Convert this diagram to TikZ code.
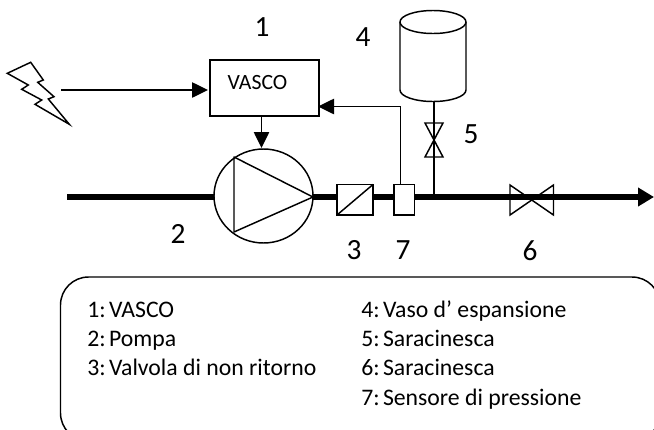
\documentclass[tikz,border=0pt]{standalone}
\usepackage{fontspec}
\setmainfont{Carlito}
\usetikzlibrary{arrows.meta}
\newcommand{\legitem}[2]{#1:\kern-1.5pt\ #2}
\tikzset{
    flow/.style={line width=1.1pt,-{Triangle[length=12pt,width=11.5pt]}},
    part/.style={line width=1.1pt,fill=white},
    num/.style={font=\fontsize{22}{26}\selectfont,inner sep=0pt},
    legend/.style={font=\fontsize{17.8}{21}\selectfont,inner sep=0pt,anchor=base west}
}
\begin{document}
\begin{tikzpicture}[x=0.75pt,y=-0.75pt]
            \clip (0,0) rectangle (654,429);

            \coordinate (S) at (61,90);
            \coordinate (V1) at (210,60);
            \coordinate (V2) at (319,116);
            \coordinate (VL) at (208,90);
            \coordinate (VR) at (318,106.5);
            \coordinate (VB) at (261.5,116);
            \coordinate (PT) at (261.5,148);

            \coordinate (P) at (263.5,196);
            \coordinate (T1) at (234,157);
            \coordinate (T2) at (234,232);
            \coordinate (T3) at (313,197);

            \coordinate (IN) at (67,197);
            \coordinate (OUT) at (654,197);

            \coordinate (C1) at (337,184.5);
            \coordinate (C2) at (373,215);
            \coordinate (C3) at (337,215);
            \coordinate (C4) at (373,184.5);

            \coordinate (M1) at (394,184.5);
            \coordinate (M2) at (414.5,215);
            \coordinate (MT) at (400.5,184.5);
            \coordinate (MC) at (400.5,106.5);

            \coordinate (A) at (400,22);
            \coordinate (B) at (466,22);
            \coordinate (D) at (400,90);
            \coordinate (E) at (466,90);
            \coordinate (TB) at (434,100.5);
            \coordinate (TJ) at (434,197);

            % lightning
            \draw[part,line join=miter] (7.3,73.3) -- (30.7,62.3) -- (43.3,80) -- (37.7,82.3) -- (54,96.7)
                -- (48.3,99) -- (69.3,124.3) -- (35,104.3) -- (41.7,100) -- (21.7,89.3) -- (28.3,85) -- cycle;

            % pipe
            \draw[line width=4.5pt,-{Triangle[length=12pt,width=13.5pt]}] (IN) -- (OUT);

            % control
            \draw[flow] (S) -- (VL);
            \draw[part] (V1) rectangle (V2);
            \node[font=\fontsize{16.3}{19}\selectfont,inner sep=0pt] (vasco) at (257.5,83) {VASCO};
            \draw[flow] (VB) -- (PT);

            % pump
            \draw[part] (P) ellipse (49.5 and 47);
            \draw[line width=1.1pt,line join=round] (T1) -- (T2) -- (T3) -- cycle;

            % check valve
            \draw[part] (C1) rectangle (C2);
            \draw[line width=1.1pt] (C3) -- (C4);

            % sensor
            \draw[flow] (MT) -- (MC) -- (VR);
            \draw[part] (M1) rectangle (M2);

            % tank
            \draw[line width=1.1pt] (TB) -- (TJ);
            \draw[part] (A) arc (180:360:33 and 11.5) -- (E) arc (0:180:33 and 11.5) -- cycle;
            \draw[line width=1.1pt] (A) arc (180:0:33 and 11.5);

            % valves
            \draw[line width=1.1pt] (425,123) -- (443,123) -- (425,157) -- (443,157) -- cycle;
            \draw[line width=1.1pt] (510,185) -- (553.5,215) -- (553.5,185) -- (510,215) -- cycle;

            % numbers
            \node[num] (n1) at (262,27) {1};
            \node[num] (n2) at (178,234) {2};
            \node[num] (n3) at (354,250) {3};
            \node[num] (n4) at (363,37) {4};
            \node[num] (n5) at (471,134) {5};
            \node[num] (n6) at (530,251) {6};
            \node[num] (n7) at (403,250) {7};

            % legend
            \draw[line width=1.1pt,rounded corners=21pt] (60.5,277) rectangle (660,441);
            \node[legend] (l1) at (87,317.5) {\legitem{1}{VASCO}};
            \node[legend] (l2) at (87,346.5) {\legitem{2}{Pompa}};
            \node[legend] (l3) at (87,375.5) {\legitem{3}{Valvola di non ritorno}};
            \node[legend] (l4) at (361,317.5) {\legitem{4}{Vaso d’ espansione}};
            \node[legend] (l5) at (361,346.5) {\legitem{5}{Saracinesca}};
            \node[legend] (l6) at (361,375.5) {\legitem{6}{Saracinesca}};
            \node[legend] (l7) at (361,405.5) {\legitem{7}{Sensore di pressione}};
        \end{tikzpicture}
\end{document}
